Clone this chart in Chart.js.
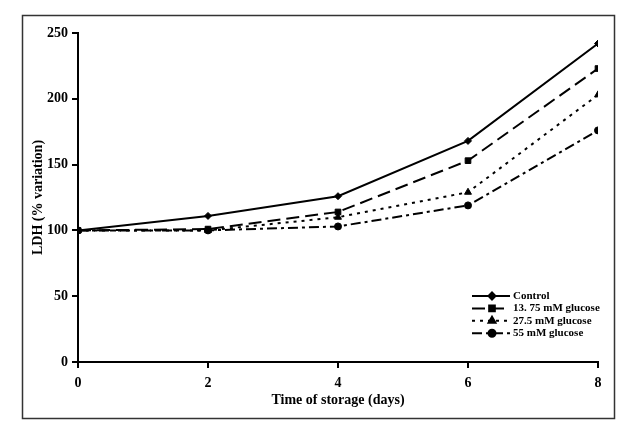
<!DOCTYPE html>
<html>
<head>
<meta charset="utf-8">
<script src="https://cdn.jsdelivr.net/npm/chart.js@4.4.0/dist/chart.umd.min.js"></script>
<style>
  html, body { margin: 0; padding: 0; background: #fff; }
  #wrap { position: relative; width: 630px; height: 434px; }
</style>
</head>
<body>
<div id="wrap"><canvas id="chart" width="630" height="434"></canvas></div>
<script>
const days = [0, 2, 4, 6, 8];
const seriesNames = ["Control", "13. 75 mM glucose", "27.5 mM glucose", "55 mM glucose"];
const control = [100, 111, 126, 168, 242];
const glucose1375 = [100, 101, 114, 153, 223];
const glucose275 = [100, 100, 110, 129, 203];
const glucose55 = [100, 100, 103, 119, 176];
const yTicks = [0, 50, 100, 150, 200, 250];

const serif = "'Liberation Serif', 'DejaVu Serif', serif";

function makeSet(label, values, pointStyle, dash, radius) {
  return {
    label,
    data: values.map((v, i) => ({ x: days[i], y: v })),
    borderColor: "#000",
    backgroundColor: "#000",
    borderWidth: 2,
    borderDash: dash,
    pointStyle,
    pointRadius: radius,
    pointBorderWidth: 1,
    tension: 0,
  };
}

// frame around the whole figure
const framePlugin = {
  id: "frame",
  afterDraw(chart) {
    const ctx = chart.ctx;
    ctx.save();
    ctx.strokeStyle = "#333";
    ctx.lineWidth = 1.5;
    ctx.strokeRect(22.5, 15.5, 592, 403);
    ctx.restore();
  },
};

// legend with line sample + marker, drawn in the lower right of the plot
const legendPlugin = {
  id: "lineLegend",
  afterDraw(chart) {
    const ctx = chart.ctx;
    const area = chart.chartArea;
    const x0 = area.right - 126;
    let y = area.bottom - 66;
    ctx.save();
    ctx.font = "bold 11px " + serif;
    ctx.textBaseline = "middle";
    chart.data.datasets.forEach((ds) => {
      ctx.strokeStyle = "#000";
      ctx.lineWidth = 2;
      ctx.setLineDash(ds.borderDash || []);
      ctx.beginPath();
      ctx.moveTo(x0, y);
      ctx.lineTo(x0 + 38, y);
      ctx.stroke();
      ctx.setLineDash([]);
      Chart.helpers.drawPoint(ctx, { pointStyle: ds.pointStyle, radius: ds.pointRadius, borderWidth: 1 }, x0 + 20, y);
      ctx.fillStyle = "#000";
      ctx.fill();
      ctx.fillText(ds.label, x0 + 41, y);
      y += 12.4;
    });
    ctx.restore();
  },
};

new Chart(document.getElementById("chart"), {
  type: "line",
  data: {
    datasets: [
      makeSet(seriesNames[0], control, "rectRot", [], 3.5),
      makeSet(seriesNames[1], glucose1375, "rect", [13, 6], 4),
      makeSet(seriesNames[2], glucose275, "triangle", [3, 5], 4),
      makeSet(seriesNames[3], glucose55, "circle", [10, 4, 3, 4], 3.5),
    ],
  },
  options: {
    responsive: false,
    animation: false,
    layout: { padding: { left: 26, right: 32, top: 33, bottom: 21 } },
    plugins: { legend: { display: false }, tooltip: { enabled: false } },
    scales: {
      x: {
        type: "linear",
        min: 0,
        max: 8,
        afterBuildTicks(axis) {
          axis.ticks = days.map((d) => ({ value: d }));
        },
        afterFit(axis) { axis.height = 51; },
        border: { display: true, color: "#000", width: 2 },
        grid: { drawOnChartArea: false, drawTicks: true, tickLength: 6, color: "#000", lineWidth: 2 },
        ticks: { color: "#000", padding: 7, font: { family: serif, size: 14, weight: "bold" } },
        title: {
          display: true,
          text: "Time of storage (days)",
          color: "#000",
          padding: { top: 2 },
          font: { family: serif, size: 14, weight: "bold" },
        },
      },
      y: {
        min: 0,
        max: 250,
        afterBuildTicks(axis) {
          axis.ticks = yTicks.map((v) => ({ value: v }));
        },
        afterFit(axis) { axis.width = 52; },
        border: { display: true, color: "#000", width: 2 },
        grid: { drawOnChartArea: false, drawTicks: true, tickLength: 6, color: "#000", lineWidth: 2 },
        ticks: { color: "#000", padding: 4, font: { family: serif, size: 14, weight: "bold" } },
        title: {
          display: true,
          text: "LDH (% variation)",
          color: "#000",
          padding: { top: 4, bottom: 4 },
          font: { family: serif, size: 14, weight: "bold" },
        },
      },
    },
  },
  plugins: [framePlugin, legendPlugin],
});
</script>
</body>
</html>
